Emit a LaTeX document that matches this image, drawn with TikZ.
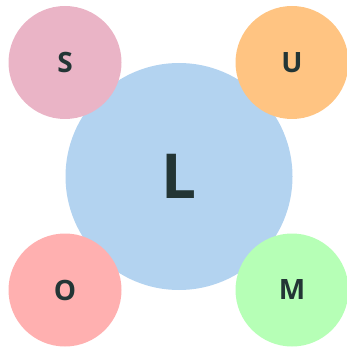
\documentclass[tikz,border=0pt]{standalone}
\usepackage{fontspec}
\setmainfont{Open Sans}
\definecolor{bigblue}{HTML}{B3D3F0}
\definecolor{spink}{HTML}{EAB4C6}
\definecolor{uorange}{HTML}{FFC482}
\definecolor{ored}{HTML}{FFB0B0}
\definecolor{mgreen}{HTML}{B6FFB6}
\definecolor{txt}{HTML}{233535}
\begin{document}
\begin{tikzpicture}[x=1pt,y=-1pt,
  bubble/.style={circle,inner sep=0pt,minimum size=113pt,text=txt,font=\fontsize{28}{30}\selectfont\bfseries},
  core/.style={circle,inner sep=0pt,minimum size=227pt,fill=bigblue,text=txt,font=\fontsize{62}{64}\selectfont\bfseries}]
\useasboundingbox (0,0) rectangle (346,347);
\node[core] (L) at (179,176.5) {L};
\node[bubble,fill=spink] (S) at (65,62.5) {S};
\node[bubble,fill=uorange] (U) at (292,62.5) {U};
\node[bubble,fill=ored] (O) at (65,290) {O};
\node[bubble,fill=mgreen] (M) at (292,290) {M};
\end{tikzpicture}
\end{document}
